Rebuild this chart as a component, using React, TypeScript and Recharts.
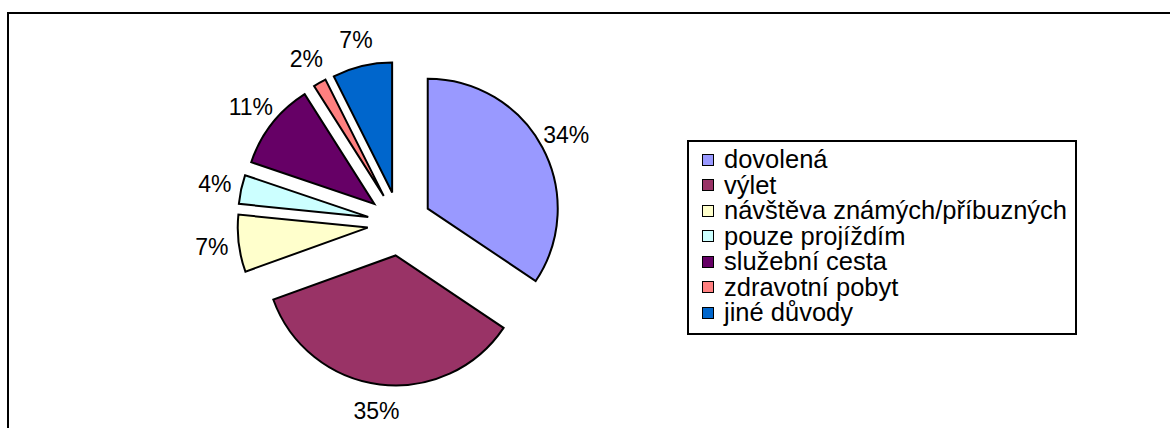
import { PieChart, Pie, Cell, Legend, Sector, Tooltip } from 'recharts';

const reasons = [
  'dovolená',
  'výlet',
  'návštěva známých/příbuzných',
  'pouze projíždím',
  'služební cesta',
  'zdravotní pobyt',
  'jiné důvody',
];
const shares = [34.4, 35.1, 7.1, 3.6, 10.8, 1.6, 7.4];
const sliceColors = ['#9999FF', '#993366', '#FFFFCC', '#CCFFFF', '#660066', '#FF8080', '#0066CC'];

const data = reasons.map((name, i) => ({ name, value: shares[i] }));

const RADIAN = Math.PI / 180;
const EXPLODE = 32;
const FONT = '"Liberation Sans", Arial, sans-serif';

// every slice pulled out along its middle angle
const ExplodedSlice = (props: any) => {
  const { cx, cy, midAngle } = props;
  const dx = EXPLODE * Math.cos(-midAngle * RADIAN);
  const dy = EXPLODE * Math.sin(-midAngle * RADIAN);
  return <Sector {...props} cx={cx + dx} cy={cy + dy} />;
};

const renderLabel = ({ cx, cy, midAngle, outerRadius, percent }: any) => {
  const r = outerRadius + EXPLODE + 27;
  const x = cx + r * Math.cos(-midAngle * RADIAN);
  const y = cy + r * Math.sin(-midAngle * RADIAN);
  return (
    <text
      x={x}
      y={y}
      textAnchor="middle"
      dominantBaseline="central"
      fontSize={23}
      fontFamily={FONT}
      fill="#000"
    >
      {Math.round(percent * 100)}%
    </text>
  );
};

const LegendBox = ({ payload }: any) => {
  // keep the legend in slice order, whatever order the payload comes in
  const byName: Record<string, any> = {};
  (payload || []).forEach((p: any) => {
    byName[p.value] = p;
  });
  return (
    <div
      style={{
        border: '2px solid #000',
        boxSizing: 'border-box',
        width: 390,
        height: 195,
        padding: '5px 0 0 13px',
        background: '#fff',
        fontFamily: FONT,
      }}
    >
      {reasons.map((name, i) => (
        <div key={`leg-${i}`} style={{ display: 'flex', alignItems: 'center', height: 25.5 }}>
          <span
            style={{
              width: 12,
              height: 12,
              boxSizing: 'border-box',
              border: '1.5px solid #000',
              background: byName[name]?.color ?? sliceColors[i],
              marginRight: 10,
              flexShrink: 0,
            }}
          />
          <span style={{ fontSize: 25.5, lineHeight: '25.5px', whiteSpace: 'nowrap', color: '#000' }}>
            {name}
          </span>
        </div>
      ))}
    </div>
  );
};

export default function App() {
  return (
    <div
      style={{
        position: 'absolute',
        left: 0,
        top: 0,
        width: 1170,
        height: 428,
        overflow: 'hidden',
        background: '#fff',
      }}
    >
      <div
        style={{
          position: 'absolute',
          left: 7,
          top: 12,
          width: 1180,
          height: 440,
          border: '2px solid #000',
          boxSizing: 'border-box',
        }}
      />
      <div style={{ position: 'absolute', left: 0, top: 0 }}>
        <PieChart width={1170} height={428} margin={{ top: 0, right: 0, bottom: 0, left: 0 }}>
          <Pie
            data={data}
            dataKey="value"
            nameKey="name"
            cx={399.5}
            cy={223.7}
            outerRadius={130}
            startAngle={90}
            endAngle={-270}
            stroke="#000"
            strokeWidth={2}
            label={renderLabel}
            labelLine={false}
            shape={ExplodedSlice}
            activeShape={ExplodedSlice}
            inactiveShape={ExplodedSlice}
            isAnimationActive={false}
          >
            {data.map((entry, i) => (
              <Cell key={entry.name} fill={sliceColors[i]} />
            ))}
          </Pie>
          <Tooltip defaultIndex={0} content={() => null} />
          <Legend
            layout="vertical"
            align="right"
            verticalAlign="top"
            content={<LegendBox />}
            wrapperStyle={{ left: 687, top: 140, width: 390, height: 195, right: 'auto', bottom: 'auto' }}
          />
        </PieChart>
      </div>
    </div>
  );
}
